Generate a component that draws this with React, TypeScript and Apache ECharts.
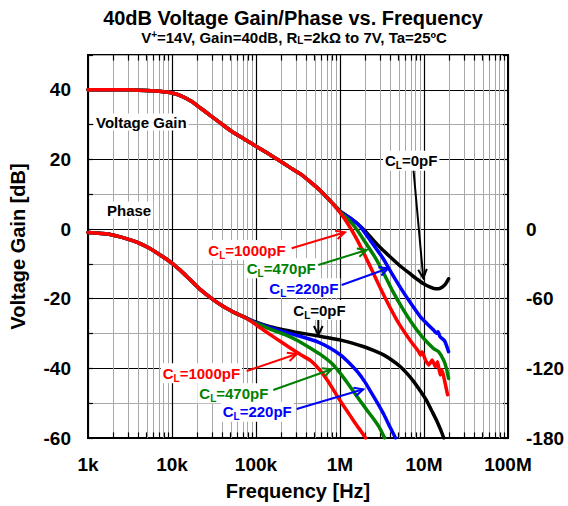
import React, { useEffect, useRef } from 'react';
import * as echarts from 'echarts';

// ---------- axis ticks ----------
const freqTickLabels = ['1k', '10k', '100k', '1M', '10M', '100M'];
const decadeStartsHz = [1e3, 1e4, 1e5, 1e6, 1e7];
const minorMultipliers = [2, 3, 4, 5, 6, 7, 8, 9];
const gainTickValues = [-60, -40, -20, 0, 20, 40];
const phaseTickValues = [0, -60, -120, -180];

// ---------- voltage gain [dB] ----------
const gainSharedHz = [1e3, 3e3, 5.7e3, 7.5e3, 1e4, 1.3e4, 1.7e4, 2.2e4, 2.95e4, 3.9e4, 5.1e4, 7.2e4, 1e5, 1.35e5, 1.81e5, 2.5e5, 3.44e5, 4.5e5, 5.93e5, 8.0e5];
const gainSharedDb = [40, 40, 39.7, 39.5, 39.1, 38.2, 36.7, 34.7, 32.4, 30.2, 28.1, 25.9, 23.8, 21.9, 20, 17.8, 15.7, 13.4, 10.9, 7.6];

const gain0Hz = [1.02e6, 1.3e6, 1.61e6, 2.0e6, 2.43e6, 3.1e6, 4.0e6, 5.2e6, 6.9e6, 8.3e6, 9.9e6, 1.17e7, 1.36e7, 1.5e7, 1.64e7, 1.8e7, 1.96e7];
const gain0Db = [5.0, 3.3, 1.6, -0.6, -2.9, -5.6, -8.1, -10.6, -12.9, -14.4, -15.7, -16.6, -17.1, -17.1, -16.7, -15.8, -14.3];

const gain220Hz = [1.02e6, 1.35e6, 1.76e6, 2.35e6, 3.19e6, 4.2e6, 5.5e6, 7.1e6, 9.06e6, 1.1e7, 1.3e7, 1.4e7, 1.47e7, 1.55e7, 1.64e7, 1.75e7, 1.85e7, 1.96e7];
const gain220Db = [4.9, 3.0, 0.6, -3.6, -8.1, -13.0, -17.6, -21.6, -25.2, -27.3, -29.0, -29.9, -29.5, -30.9, -31.4, -32.0, -33.4, -35.2];

const gain470Hz = [1.02e6, 1.25e6, 1.54e6, 2.0e6, 2.66e6, 3.35e6, 4.19e6, 5.5e6, 7.23e6, 9.49e6, 1.12e7, 1.3e7, 1.49e7, 1.71e7, 1.85e7, 1.96e7];
const gain470Db = [4.8, 2.8, 0.3, -3.8, -8.4, -12.9, -17.6, -22.6, -27.1, -30.9, -32.8, -34.3, -35.2, -37.6, -40.0, -42.9];

const gain1000Hz = [1.02e6, 1.25e6, 1.6e6, 2.02e6, 2.5e6, 3.04e6, 3.9e6, 5.01e6, 6.9e6, 8.65e6, 9.06e6, 9.49e6, 1.04e7, 1.14e7, 1.25e7, 1.36e7, 1.45e7, 1.56e7, 1.64e7, 1.75e7, 1.91e7];
const gain1000Db = [4.5, 1.4, -3.1, -8.0, -12.7, -17.1, -22.3, -27.1, -32.1, -35.2, -36.2, -35.2, -37.6, -39.0, -37.6, -39.5, -38.1, -41.9, -40.5, -43.3, -47.6];

// ---------- phase [deg] ----------
const phaseSharedHz = [1e3, 1.73e3, 2.98e3, 4.0e3, 5.14e3, 7.0e3, 9.7e3, 1.25e4, 1.53e4, 1.85e4, 2.2e4, 2.65e4, 3.17e4, 3.8e4, 4.56e4, 5.7e4, 7.2e4];
const phaseSharedDeg = [-2.9, -4.3, -8.6, -11.8, -15.7, -21.6, -28.6, -35.4, -41.4, -47.2, -52.4, -57.2, -61.4, -65.1, -68.6, -72.4, -75.7];

const phase0Hz = [8.77e4, 1.15e5, 1.51e5, 2.1e5, 2.86e5, 3.9e5, 5.41e5, 7.5e5, 1.02e6, 1.4e6, 1.93e6, 2.55e6, 3.34e6, 4.2e6, 5.25e6, 6.3e6, 7.55e6, 9.1e6, 1.09e7, 1.25e7, 1.43e7, 1.58e7, 1.72e7];
const phase0Deg = [-78.6, -81.7, -84.3, -86.6, -88.6, -90.3, -92.0, -93.8, -95.7, -98.2, -101.4, -104.7, -108.6, -113.2, -118.6, -124.6, -131.4, -139.8, -148.6, -157.2, -165.7, -173.0, -180];

const phase220Hz = [8.77e4, 1.4e5, 2.18e5, 3.5e5, 5.41e5, 7.6e5, 1.02e6, 1.28e6, 1.61e6, 1.95e6, 2.32e6, 2.8e6, 3.34e6, 3.9e6, 4.58e6];
const phase220Deg = [-78.9, -84.3, -88.6, -92.8, -97.1, -102.4, -108.6, -115.2, -122.9, -131.0, -140, -150.0, -160, -170, -180];

const phase470Hz = [8.77e4, 1.4e5, 2.18e5, 3.2e5, 4.51e5, 6.0e5, 7.78e5, 9.4e5, 1.12e6, 1.4e6, 1.76e6, 2.12e6, 2.54e6, 2.95e6, 3.4e6];
const phase470Deg = [-79.2, -85.5, -90.8, -96.4, -102.9, -108.6, -115.0, -121.5, -128.6, -138.4, -148.6, -156.5, -164.0, -171.0, -180];

const phase1000Hz = [8.77e4, 1.15e5, 1.51e5, 2.0e5, 2.61e5, 3.45e5, 4.51e5, 5.7e5, 7.11e5, 8.6e5, 1.02e6, 1.22e6, 1.47e6, 1.73e6, 2.02e6];
const phase1000Deg = [-79.5, -85.6, -91.4, -97.3, -102.9, -108.5, -113.5, -121.0, -130.5, -140.0, -148.6, -157.0, -165.7, -173.0, -180];

const FONT = '"Liberation Sans", Arial, Helvetica, sans-serif';
const RED = '#ff0000';
const GREEN = '#008000';
const BLUE = '#0000ff';
const BLACK = '#000000';

const toPts = (hz: number[], v: number[]) => hz.map((f, i) => [Math.log10(f), v[i]]);

function curve(name: string, hz: number[], v: number[], color: string, yAxisIndex: number, z: number) {
  return {
    name,
    type: 'line',
    yAxisIndex,
    data: toPts(hz, v),
    showSymbol: false,
    symbol: 'none',
    smooth: 0.15,
    silent: true,
    z,
    lineStyle: { color, width: 3.5, join: 'round', cap: 'round' },
  };
}

function clLabel(value: string, color: string, x: number, y: number) {
  return {
    type: 'text',
    x: x - 2,
    y,
    z: 100,
    style: {
      text: `{n|C}{s|L}{n|=${value}}`,
      align: 'left',
      textAlign: 'left',
      verticalAlign: 'middle',
      textVerticalAlign: 'middle',
      backgroundColor: '#ffffff',
      padding: [0, 2],
      rich: {
        n: { fontSize: 15, fontWeight: 'bold', fontFamily: FONT, fill: color, lineHeight: 20 },
        s: { fontSize: 10, fontWeight: 'bold', fontFamily: FONT, fill: color, lineHeight: 10, verticalAlign: 'bottom' },
      },
    },
  };
}

function plainLabel(text: string, x: number, y: number) {
  return {
    type: 'text',
    x: x - 2,
    y,
    z: 100,
    style: {
      text,
      fill: '#000',
      font: `bold 15px ${FONT}`,
      align: 'left',
      textAlign: 'left',
      verticalAlign: 'middle',
      textVerticalAlign: 'middle',
      backgroundColor: '#ffffff',
      padding: [1, 2],
    },
  };
}

function arrow(x1: number, y1: number, x2: number, y2: number, color: string) {
  const th = Math.atan2(y2 - y1, x2 - x1);
  const L = 10;
  const a = 0.45;
  const p1 = [x2 - L * Math.cos(th - a), y2 - L * Math.sin(th - a)];
  const p2 = [x2 - L * Math.cos(th + a), y2 - L * Math.sin(th + a)];
  return {
    type: 'group',
    z: 99,
    children: [
      { type: 'line', z: 99, shape: { x1, y1, x2, y2 }, style: { stroke: color, lineWidth: 2 } },
      { type: 'polyline', z: 99, shape: { points: [p1, [x2, y2], p2] }, style: { stroke: color, lineWidth: 2, fill: null } },
    ],
  };
}

export default function App() {
  const ref = useRef<HTMLDivElement>(null);

  useEffect(() => {
    if (!ref.current) return;
    const chart = echarts.init(ref.current, undefined, { renderer: 'svg' });

    const minorX: number[] = [];
    decadeStartsHz.forEach((d) => minorMultipliers.forEach((m) => minorX.push(Math.log10(d * m))));

    const labelStyle = { fontSize: 19, fontWeight: 'bold', color: '#000', fontFamily: FONT };
    const nameStyle = { fontSize: 20, fontWeight: 'bold', color: '#000', fontFamily: FONT };

    const option: any = {
      animation: false,
      grid: { left: 86, right: 60, top: 55, bottom: 68, show: true, borderColor: '#000', borderWidth: 2, backgroundColor: 'transparent' },
      xAxis: {
        type: 'value',
        min: 3,
        max: 8,
        interval: 1,
        axisLine: { show: true, onZero: false, lineStyle: { color: '#000', width: 2 } },
        axisTick: { show: false },
        axisLabel: { ...labelStyle, margin: 17, formatter: (v: number) => freqTickLabels[Math.round(v - 3)] ?? '' },
        splitLine: { show: true, lineStyle: { color: '#000', width: 1.2 } },
        name: 'Frequency [Hz]',
        nameLocation: 'middle',
        nameGap: 43,
        nameTextStyle: nameStyle,
      },
      yAxis: [
        {
          type: 'value',
          position: 'left',
          min: -60,
          max: 50,
          interval: 10,
          axisLine: { show: true, onZero: false, lineStyle: { color: '#000', width: 2 } },
          axisTick: { show: true, inside: true, length: 5, lineStyle: { color: '#000', width: 1.2 } },
          axisLabel: { ...labelStyle, margin: 17, formatter: (v: number) => (gainTickValues.includes(v) ? String(v) : '') },
          splitLine: { show: true, lineStyle: { color: ['#000', '#a8a8a8'], width: 1.2 } },
          name: 'Voltage Gain [dB]',
          nameLocation: 'middle',
          nameRotate: 90,
          nameGap: 60,
          nameTextStyle: nameStyle,
        },
        {
          type: 'value',
          position: 'right',
          min: -180,
          max: 150,
          interval: 30,
          axisLine: { show: true, onZero: false, lineStyle: { color: '#000', width: 2 } },
          axisTick: { show: true, inside: true, length: 5, lineStyle: { color: '#000', width: 1.2 } },
          axisLabel: { ...labelStyle, margin: 18, formatter: (v: number) => (phaseTickValues.includes(v) ? String(v) : '') },
          splitLine: { show: false },
        },
      ],
      series: [
        {
          type: 'line',
          data: [[3, -60]],
          showSymbol: false,
          symbol: 'none',
          silent: true,
          lineStyle: { width: 0 },
          z: 1,
          markLine: {
            silent: true,
            z: 1,
            symbol: ['none', 'none'],
            label: { show: false },
            lineStyle: { color: '#a8a8a8', width: 1, type: 'solid' },
            emphasis: { disabled: true },
            data: minorX.map((x) => ({ xAxis: x })),
          },
        },
        {
          type: 'line',
          data: [[3, -60]],
          showSymbol: false,
          symbol: 'none',
          silent: true,
          lineStyle: { width: 0 },
          z: 1,
          markLine: {
            silent: true,
            z: 1,
            symbol: ['none', 'none'],
            label: { show: false },
            lineStyle: { color: '#000', width: 1.2, type: 'solid' },
            emphasis: { disabled: true },
            data: [
              ...minorX.map((x) => [{ coord: [x, -60] }, { coord: [x, -58.4] }]),
              ...minorX.map((x) => [{ coord: [x, 50] }, { coord: [x, 48.4] }]),
            ],
          },
        },
        curve('Gain CL=0pF', gainSharedHz.concat(gain0Hz), gainSharedDb.concat(gain0Db), BLACK, 0, 3),
        curve('Gain CL=220pF', gainSharedHz.concat(gain220Hz), gainSharedDb.concat(gain220Db), BLUE, 0, 4),
        curve('Gain CL=470pF', gainSharedHz.concat(gain470Hz), gainSharedDb.concat(gain470Db), GREEN, 0, 5),
        curve('Gain CL=1000pF', gainSharedHz.concat(gain1000Hz), gainSharedDb.concat(gain1000Db), RED, 0, 6),
        curve('Phase CL=0pF', phaseSharedHz.concat(phase0Hz), phaseSharedDeg.concat(phase0Deg), BLACK, 1, 3),
        curve('Phase CL=220pF', phaseSharedHz.concat(phase220Hz), phaseSharedDeg.concat(phase220Deg), BLUE, 1, 4),
        curve('Phase CL=470pF', phaseSharedHz.concat(phase470Hz), phaseSharedDeg.concat(phase470Deg), GREEN, 1, 5),
        curve('Phase CL=1000pF', phaseSharedHz.concat(phase1000Hz), phaseSharedDeg.concat(phase1000Deg), RED, 1, 6),
      ],
      graphic: [
        {
          type: 'text',
          x: 293,
          y: 17.5,
          style: {
            text: '40dB Voltage Gain/Phase vs. Frequency',
            fill: '#000',
            font: `bold 20px ${FONT}`,
            lineHeight: 20,
            align: 'center',
            textAlign: 'center',
            verticalAlign: 'middle',
            textVerticalAlign: 'middle',
          },
        },
        {
          type: 'text',
          x: 294,
          y: 37.5,
          style: {
            text: '{m|V}{p|+}{m|=14V, Gain=40dB, R}{s|L}{m|=2kΩ to 7V, Ta=25ºC}',
            align: 'center',
            textAlign: 'center',
            verticalAlign: 'middle',
            textVerticalAlign: 'middle',
            rich: {
              m: { fontSize: 15, fontWeight: 'bold', fontFamily: FONT, fill: '#000', lineHeight: 16 },
              p: { fontSize: 10, fontWeight: 'bold', fontFamily: FONT, fill: '#000', lineHeight: 9, verticalAlign: 'top' },
              s: { fontSize: 10, fontWeight: 'bold', fontFamily: FONT, fill: '#000', lineHeight: 8, verticalAlign: 'bottom' },
            },
          },
        },
        plainLabel('Voltage Gain', 96, 122),
        plainLabel('Phase', 107, 210),
        // gain annotations
        arrow(413.3, 168, 423.3, 278.3, BLACK),
        clLabel('0pF', BLACK, 385, 160.7),
        arrow(291.7, 248.3, 345, 232.3, RED),
        clLabel('1000pF', RED, 208.3, 250),
        arrow(318.3, 265, 366.7, 250, GREEN),
        clLabel('470pF', GREEN, 246.7, 268.3),
        arrow(341.7, 285, 388.3, 268.3, BLUE),
        clLabel('220pF', BLUE, 269.3, 288.3),
        // phase annotations
        arrow(318.3, 318, 318.3, 335, BLACK),
        clLabel('0pF', BLACK, 293.3, 310),
        arrow(246.7, 371, 296.7, 354, RED),
        clLabel('1000pF', RED, 162.7, 373.3),
        arrow(273.3, 390, 331.7, 369.3, GREEN),
        clLabel('470pF', GREEN, 199.3, 393.3),
        arrow(296.7, 409, 363.3, 389.3, BLUE),
        clLabel('220pF', BLUE, 222.7, 411.7),
      ],
    };

    chart.setOption(option);
    return () => chart.dispose();
  }, []);

  return (
    <div
      ref={ref}
      style={{ position: 'absolute', left: 0, top: 0, width: 568, height: 506, background: '#fff' }}
    />
  );
}
